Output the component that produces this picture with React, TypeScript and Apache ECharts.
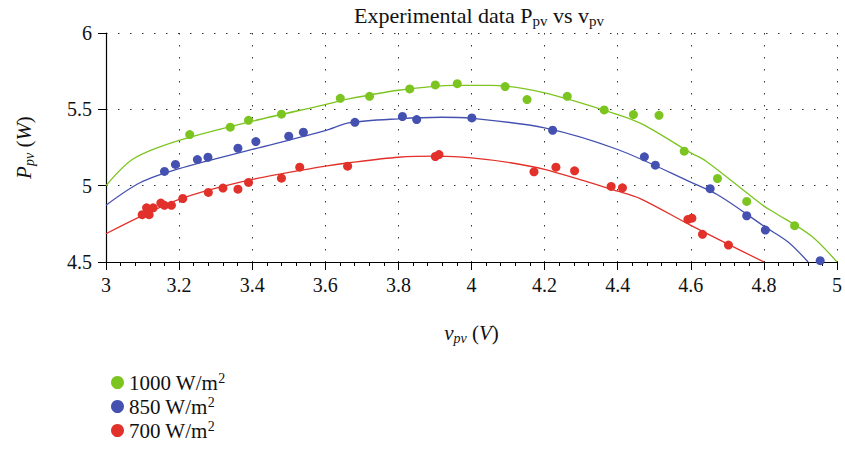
import React, { useEffect, useRef } from "react";
import * as echarts from "echarts";

const FONT = "'Liberation Serif', 'DejaVu Serif', serif";

const seriesNames = ["1000 W/m²", "850 W/m²", "700 W/m²"];
const legendLabels = ["1000 W/m", "850 W/m", "700 W/m"];
const seriesColors = ["#7cc520", "#4551b0", "#e2302a"];

// measured points (v_pv, P_pv)
const points1000: [number, number][] = [
  [3.229, 5.335], [3.34, 5.383], [3.39, 5.428], [3.48, 5.468], [3.641, 5.572],
  [3.721, 5.585], [3.831, 5.634], [3.901, 5.66], [3.961, 5.668], [4.092, 5.649],
  [4.152, 5.564], [4.262, 5.585], [4.363, 5.496], [4.443, 5.466], [4.513, 5.461],
  [4.582, 5.226], [4.673, 5.047], [4.753, 4.897], [4.884, 4.738],
];
const points850: [number, number][] = [
  [3.16, 5.093], [3.19, 5.139], [3.25, 5.171], [3.279, 5.186], [3.361, 5.245],
  [3.41, 5.289], [3.5, 5.324], [3.54, 5.35], [3.681, 5.415], [3.811, 5.453],
  [3.85, 5.433], [4.001, 5.444], [4.222, 5.363], [4.473, 5.189], [4.503, 5.134],
  [4.653, 4.98], [4.753, 4.803], [4.804, 4.709], [4.954, 4.509],
];
const points700: [number, number][] = [
  [3.099, 4.81], [3.111, 4.855], [3.118, 4.81], [3.129, 4.855], [3.15, 4.886],
  [3.16, 4.871], [3.179, 4.871], [3.21, 4.916], [3.28, 4.956], [3.32, 4.984],
  [3.361, 4.977], [3.39, 5.021], [3.48, 5.049], [3.53, 5.121], [3.661, 5.128],
  [3.901, 5.191], [3.911, 5.204], [4.171, 5.091], [4.231, 5.121], [4.282, 5.097],
  [4.382, 4.995], [4.413, 4.986], [4.592, 4.779], [4.603, 4.787], [4.632, 4.681],
  [4.703, 4.611],
];

// fitted curves
const fit1000: [number, number][] = [
  [3.0, 5.0], [3.075, 5.176], [3.2, 5.296], [3.4, 5.422], [3.6, 5.531],
  [3.664, 5.568], [3.8, 5.625], [3.953, 5.657], [4.05, 5.657], [4.2, 5.608],
  [4.4, 5.466], [4.47, 5.4], [4.6, 5.215], [4.642, 5.16], [4.8, 4.866],
  [4.83, 4.823], [4.93, 4.67], [5.0, 4.5],
];
const fit850: [number, number][] = [
  [3.0, 4.872], [3.093, 5.019], [3.2, 5.111], [3.4, 5.237], [3.6, 5.361],
  [3.664, 5.411], [3.8, 5.438], [3.918, 5.448], [4.0, 5.441], [4.2, 5.379],
  [4.4, 5.237], [4.6, 5.023], [4.68, 4.931], [4.8, 4.735], [4.867, 4.63],
  [4.921, 4.5],
];
const fit700: [number, number][] = [
  [3.0, 4.685], [3.2, 4.91], [3.4, 5.041], [3.6, 5.128], [3.664, 5.15],
  [3.8, 5.186], [3.908, 5.193], [4.0, 5.182], [4.107, 5.15], [4.2, 5.106],
  [4.4, 4.964], [4.463, 4.914], [4.6, 4.74], [4.8, 4.5],
];

const pointSets = [points1000, points850, points700];
const fitSets = [fit1000, fit850, fit700];

export default function App() {
  const ref = useRef<HTMLDivElement>(null);
  useEffect(() => {
    if (!ref.current) return;
    const chart = echarts.init(ref.current, undefined, { renderer: "svg" });
    const mainRich = { fontFamily: FONT, fontSize: 21, fontWeight: "normal", color: "#111", lineHeight: 26 };
    const subRich = {
      fontFamily: FONT, fontSize: 14, fontWeight: "normal", color: "#111", lineHeight: 15, padding: [11, 0, 0, 0],
    };
    const supRich = {
      fontFamily: FONT, fontSize: 14, fontWeight: "normal", color: "#111", lineHeight: 15, padding: [0, 0, 9, 0],
    };
    const titleMain = { ...mainRich, fontSize: 22 };
    const titleSub = { ...subRich, fontSize: 15 };
    const dotted = { color: "#333", width: 1, type: [1.5, 10.5] as any };
    const series: any[] = [];
    fitSets.forEach((d, i) => {
      series.push({
        type: "line",
        name: "fit " + seriesNames[i],
        data: d,
        showSymbol: false,
        symbol: "none",
        smooth: 0.3,
        silent: true,
        lineStyle: { color: seriesColors[i], width: 1.3 },
        z: 2,
      });
    });
    pointSets.forEach((d, i) => {
      series.push({
        type: "scatter",
        name: seriesNames[i],
        data: d,
        symbolSize: 9,
        itemStyle: { color: seriesColors[i], opacity: 1 },
        z: 3,
      });
    });
    chart.setOption({
      animation: false,
      title: {
        text: "{a|Experimental data P}{s|pv}{a| vs v}{s|pv}",
        left: 474,
        textAlign: "center",
        top: -3,
        textStyle: { fontWeight: "normal", rich: { a: titleMain, s: titleSub } },
      },
      grid: { left: 106, right: 4, top: 33, bottom: 192 },
      legend: {
        data: seriesNames,
        orient: "vertical",
        left: 106,
        top: 366,
        itemWidth: 13,
        itemHeight: 13,
        itemGap: 1,
        icon: "circle",
        formatter: (name: string) => {
          const i = seriesNames.indexOf(name);
          return "{a|" + legendLabels[i] + "}{p|2}";
        },
        textStyle: {
          fontFamily: FONT,
          fontSize: 21,
          color: "#111",
          rich: { a: mainRich, p: supRich },
        },
      },
      xAxis: {
        type: "value",
        min: 3,
        max: 5,
        interval: 0.2,
        name: "{i|v}{s|pv}{n| (}{i|V}{n|)}",
        nameLocation: "middle",
        nameGap: 58,
        nameTextStyle: {
          rich: {
            i: { ...mainRich, fontStyle: "italic" },
            n: mainRich,
            s: { ...subRich, fontStyle: "italic" },
          },
        },
        axisLine: { show: true, onZero: false, lineStyle: { color: "#000", width: 1.2 } },
        axisTick: { show: true, length: 8, lineStyle: { color: "#000" } },
        minorTick: { show: true, splitNumber: 5, length: 4, lineStyle: { color: "#000" } },
        splitLine: { show: true, lineStyle: dotted },
        axisLabel: { fontFamily: FONT, fontSize: 20, color: "#111", margin: 13 },
      },
      yAxis: {
        type: "value",
        min: 4.5,
        max: 6,
        interval: 0.5,
        name: "{i|P}{s|pv}{n| (}{i|W}{n|)}",
        nameLocation: "middle",
        nameGap: 69,
        nameTextStyle: {
          rich: {
            i: { ...mainRich, fontStyle: "italic" },
            n: mainRich,
            s: { ...subRich, fontStyle: "italic" },
          },
        },
        axisLine: { show: true, onZero: false, lineStyle: { color: "#000", width: 1.2 } },
        axisTick: { show: true, length: 8, lineStyle: { color: "#000" } },
        splitLine: { show: true, lineStyle: dotted },
        axisLabel: { fontFamily: FONT, fontSize: 20, color: "#111", margin: 14 },
      },
      series,
    });
    return () => chart.dispose();
  }, []);
  return <div ref={ref} style={{ width: 845, height: 454, position: "absolute", left: 0, top: 0 }} />;
}
